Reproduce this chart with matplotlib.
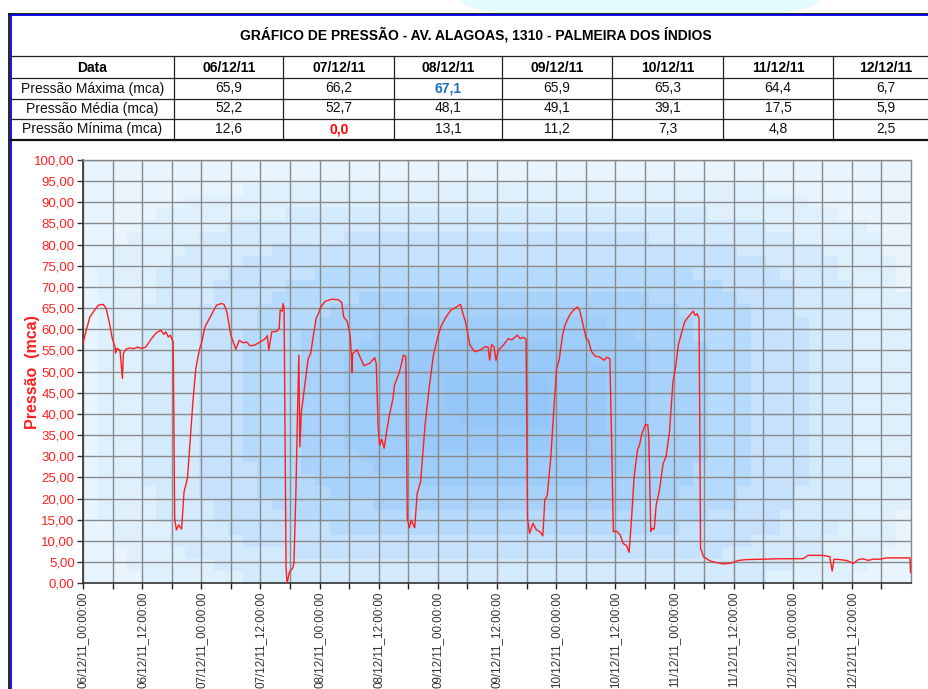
import numpy as np
import matplotlib
matplotlib.use("Agg")
import matplotlib.pyplot as plt
from matplotlib.colors import LinearSegmentedColormap
from matplotlib.patches import Ellipse, Rectangle

plt.rcParams['font.family'] = ['Liberation Sans', 'DejaVu Sans']

# Table data
titulo = "GRÁFICO DE PRESSÃO - AV. ALAGOAS, 1310 - PALMEIRA DOS ÍNDIOS"
datas = ["06/12/11", "07/12/11", "08/12/11", "09/12/11", "10/12/11", "11/12/11", "12/12/11"]
linhas = ["Pressão Máxima (mca)", "Pressão Média (mca)", "Pressão Mínima (mca)"]
p_max = ["65,9", "66,2", "67,1", "65,9", "65,3", "64,4", "6,7"]
p_med = ["52,2", "52,7", "48,1", "49,1", "39,1", "17,5", "5,9"]
p_min = ["12,6", "0,0", "13,1", "11,2", "7,3", "4,8", "2,5"]

# Pressure series (hours since 06/12/11 00:00, mca)
horas = [0.0, 0.75, 1.4, 2.1, 3.1, 4.1, 4.7, 5.3, 5.95, 6.5, 6.6, 6.9, 7.5, 8.0, 8.2, 8.7,
         9.5, 10.3, 11.0, 11.8, 12.6, 12.9, 13.9, 14.9, 15.8, 16.4, 16.8, 17.3, 17.7, 18.3,
         18.6, 18.95, 19.4, 20.0, 20.5, 21.2, 22.3, 22.9, 23.6, 24.1, 24.75, 25.8, 27.1, 28.1,
         28.6, 29.2, 30.0, 31.0, 31.7, 32.5, 33.2, 33.9, 34.9, 35.9, 36.9, 37.4, 37.7, 38.3,
         39.3, 39.8, 40.0, 40.4, 40.6, 40.8, 41.2, 41.4, 41.9, 42.5, 42.8, 43.2, 43.5, 43.8,
         44.0, 44.3, 45.0, 45.7, 46.2, 46.7, 47.3, 47.7, 48.2, 49.1, 50.4, 51.8, 52.5, 52.9,
         53.6, 54.2, 54.4, 54.6, 54.7, 55.2, 55.6, 56.2, 57.0, 57.6, 58.2, 59.2, 59.5, 59.9,
         60.2, 60.6, 61.1, 61.6, 62.1, 62.9, 63.2, 64.0, 64.4, 65.0, 65.5, 65.8, 66.2, 66.6,
         67.3, 67.8, 68.5, 69.4, 70.3, 71.1, 71.9, 72.6, 73.5, 74.6, 75.8, 76.6, 77.0, 77.6,
         78.5, 79.5, 80.6, 81.6, 82.2, 82.5, 82.9, 83.4, 83.8, 84.3, 85.3, 86.3, 87.0, 87.7,
         88.1, 88.7, 89.3, 89.9, 90.2, 90.6, 91.3, 92.0, 92.7, 93.3, 93.7, 94.2, 94.9, 95.5,
         96.1, 96.6, 97.3, 97.8, 98.7, 99.5, 100.3, 100.8, 101.4, 102.1, 102.5, 103.2, 103.9,
         104.9, 105.7, 106.3, 106.9, 107.3, 107.6, 108.3, 109.0, 109.6, 110.3, 110.8, 111.3,
         111.8, 112.5, 112.9, 113.4, 114.1, 114.6, 114.8, 115.2, 115.5, 115.9, 116.3, 116.9,
         117.7, 118.3, 119.0, 119.7, 120.2, 120.8, 121.5, 122.1, 122.8, 123.8, 124.2, 124.6,
         125.0, 125.3, 125.9, 127.2, 128.5, 129.9, 131.3, 133.0, 134.6, 138.0, 141.4, 146.1,
         147.1, 150.1, 151.5, 152.0, 152.4, 153.6, 154.9, 156.3, 157.3, 158.3, 159.3, 160.3,
         161.7, 163.0, 167.8, 167.9]
pressao = [56.7, 60.2, 62.9, 64.1, 65.7, 65.9, 64.9, 61.8, 57.8, 55.9, 54.4, 55.5, 55.1, 48.4, 54.3, 55.3,
           55.6, 55.4, 55.8, 55.5, 55.7, 56.1, 57.8, 59.2, 59.8, 58.8, 59.4, 58.2, 58.6, 57.0,
           15.3, 12.6, 13.8, 12.8, 21.6, 24.8, 42.9, 50.8, 55.1, 57.0, 60.6, 62.9, 65.7, 66.1,
           65.9, 64.1, 58.6, 55.3, 57.4, 56.8, 57.0, 56.1, 56.3, 57.0, 57.7, 58.5, 55.1, 59.4,
           59.5, 60.2, 64.5, 64.3, 66.1, 65.0, 3.6, 0.0, 2.7, 3.5, 4.7, 21.6, 39.0, 53.9,
           32.2, 40.5, 46.8, 53.1, 54.3, 58.2, 62.6, 63.5, 65.1, 66.6, 67.1, 67.0, 66.3, 62.9,
           61.9, 58.6, 55.1, 49.8, 54.3, 54.7, 55.2, 53.5, 51.4, 51.7, 52.0, 53.3, 51.9, 36.6,
           32.6, 34.1, 31.9, 35.8, 39.3, 43.7, 46.8, 49.3, 50.8, 53.9, 53.6, 15.3, 13.1, 14.9,
           13.1, 21.2, 24.0, 37.4, 46.8, 53.9, 57.8, 60.6, 62.6, 64.5, 65.3, 65.9, 64.1, 61.8,
           56.3, 54.7, 55.1, 55.9, 55.8, 52.7, 56.4, 55.9, 52.7, 55.1, 56.3, 57.8, 57.5, 58.2,
           58.6, 57.8, 58.1, 57.7, 15.3, 11.8, 14.2, 12.6, 12.2, 11.2, 19.7, 20.8, 29.5, 40.5,
           50.8, 52.7, 58.6, 61.0, 63.3, 64.5, 65.3, 64.4, 61.4, 57.8, 57.5, 54.7, 53.7,
           53.4, 52.7, 53.4, 53.0, 31.1, 12.2, 12.3, 11.4, 9.4, 8.9, 7.3, 15.3,
           24.8, 31.5, 32.6, 35.4, 37.5, 37.4, 34.5, 12.2, 13.0, 12.8, 18.5, 21.6,
           28.3, 29.9, 35.8, 47.6, 50.8, 56.3, 59.4, 61.8, 62.9, 64.3, 63.3, 63.7,
           62.6, 8.3, 6.3, 5.3, 4.9, 4.6, 4.7, 5.4, 5.6, 5.7, 5.8, 5.8,
           6.6, 6.6, 6.3, 2.9, 5.7, 5.6, 5.4, 4.7, 5.6, 5.8, 5.4, 5.7,
           5.7, 6.0, 6.0, 2.5]

x_labels = ["06/12/11_00:00:00", "06/12/11_12:00:00", "07/12/11_00:00:00", "07/12/11_12:00:00",
            "08/12/11_00:00:00", "08/12/11_12:00:00", "09/12/11_00:00:00", "09/12/11_12:00:00",
            "10/12/11_00:00:00", "10/12/11_12:00:00", "11/12/11_00:00:00", "11/12/11_12:00:00",
            "12/12/11_00:00:00", "12/12/11_12:00:00"]

W, H = 929, 689
fig = plt.figure(figsize=(W / 100, H / 100), dpi=100)

# page layer in pixel coordinates
page = fig.add_axes([0, 0, 1, 1])
page.set_xlim(0, W)
page.set_ylim(H, 0)
page.axis('off')

page.add_patch(Ellipse((640, 0), 360, 44, color='#E4FBFF', lw=0, zorder=0))
page.add_patch(Rectangle((10, 14), W, H, color='white', lw=0, zorder=1))

# frame
page.plot([9.3, 9.3], [13.8, H], color='black', lw=1.2, zorder=3)
page.plot([9.3, W], [13.8, 13.8], color='black', lw=1.2, zorder=3)
page.plot([11, 11], [15.3, H], color='#0000EE', lw=1.3, zorder=3)
page.plot([11, W], [15.3, 15.3], color='#0000EE', lw=1.3, zorder=3)

# table
col_edges = [11, 174, 283.5, 394, 502, 612, 723, 833, 943]
row_lines = [56, 78, 98.5, 118.5]
for yl in row_lines:
    page.plot([11, W], [yl, yl], color='#222222', lw=0.9, zorder=3)
page.plot([11, W], [139.5, 139.5], color='#111111', lw=1.6, zorder=3)
for xc in col_edges[1:-1]:
    page.plot([xc, xc], [56, 139.5], color='#222222', lw=0.9, zorder=3)

page.text(476, 35, titulo, ha='center', va='center', fontsize=10, fontweight='bold', zorder=4)
centros = [(col_edges[i] + col_edges[i + 1]) / 2 for i in range(len(col_edges) - 1)]
centros[-1] = 886
row_y = [67.5, 88.5, 108.5, 129]
page.text(centros[0], row_y[0], "Data", ha='center', va='center', fontsize=10, fontweight='bold', zorder=4)
for i, d in enumerate(datas):
    page.text(centros[i + 1], row_y[0], d, ha='center', va='center', fontsize=10, fontweight='bold', zorder=4)
for r, (nome, vals) in enumerate(zip(linhas, [p_max, p_med, p_min])):
    page.text(centros[0], row_y[r + 1], nome, ha='center', va='center', fontsize=10, color='#111111', zorder=4)
    for i, v in enumerate(vals):
        cor, peso = '#111111', 'normal'
        if r == 0 and v == max(p_max, key=lambda s: float(s.replace(',', '.'))):
            cor, peso = '#1B6FC2', 'bold'
        if r == 2 and v == min(p_min, key=lambda s: float(s.replace(',', '.'))):
            cor, peso = '#FF0000', 'bold'
        page.text(centros[i + 1], row_y[r + 1], v, ha='center', va='center', fontsize=10,
                  color=cor, fontweight=peso, zorder=4)

# chart
ax = fig.add_axes([83 / W, (H - 583.3) / H, (911 - 83) / W, (583.3 - 160) / H])
ax.set_xlim(0, 168)
ax.set_ylim(0, 100)

# blocky blue background
cmap = LinearSegmentedColormap.from_list(
    'fundo', [(0, '#94C6F7'), (0.3, '#A4D0FA'), (0.5, '#BEDEFC'), (0.7, '#D8ECFD'),
              (0.85, '#E6F4FE'), (1, '#F0F7FE')])
gx = np.linspace(0, 168, 57)
gy = np.linspace(0, 100, 35)
GX, GY = np.meshgrid(gx, gy)
dist = ((np.abs(GX - 85) / 95) ** 4 + (np.abs(GY - 43) / 60) ** 4) ** 0.25
dist = np.floor(np.clip(dist, 0, 0.999) * 9) / 9
ax.imshow(dist, extent=[0, 168, 0, 100], origin='lower', cmap=cmap, vmin=0, vmax=1,
          aspect='auto', interpolation='nearest', zorder=0)

ax.set_yticks(np.arange(0, 101, 5))
ax.set_yticklabels([f"{v:.2f}".replace('.', ',') for v in np.arange(0, 101, 5)])
ax.set_xticks(np.arange(0, 168, 12))
ax.set_xticklabels(x_labels)
ax.set_xticks(np.arange(6, 168, 12), minor=True)
ax.grid(True, which='both', color='#8A8A8A', lw=1.0, zorder=1)
ax.set_axisbelow(True)

ax.plot(horas, pressao, color='#FF1E1E', lw=1.0, zorder=3)

ax.tick_params(axis='y', colors='#333333', labelcolor='#FF2020', labelsize=9.5, length=4, width=1, pad=2)
ax.tick_params(axis='x', which='both', colors='#222222', labelcolor='#333333', labelsize=8.4,
               length=4, width=1, pad=2, labelrotation=90)
for lbl in ax.get_xticklabels():
    lbl.set_va('top')
    lbl.set_ha('center')

for s in ['left', 'bottom']:
    ax.spines[s].set_color('#333333')
    ax.spines[s].set_linewidth(1.2)
for s in ['right', 'top']:
    ax.spines[s].set_color('#888888')
    ax.spines[s].set_linewidth(1.0)

ax.set_ylabel("Pressão  (mca)", color='#FF1E1E', fontsize=11.5, fontweight='bold')
ax.yaxis.set_label_coords(-0.052, 0.5)

fig.savefig("out.png", dpi=100)
